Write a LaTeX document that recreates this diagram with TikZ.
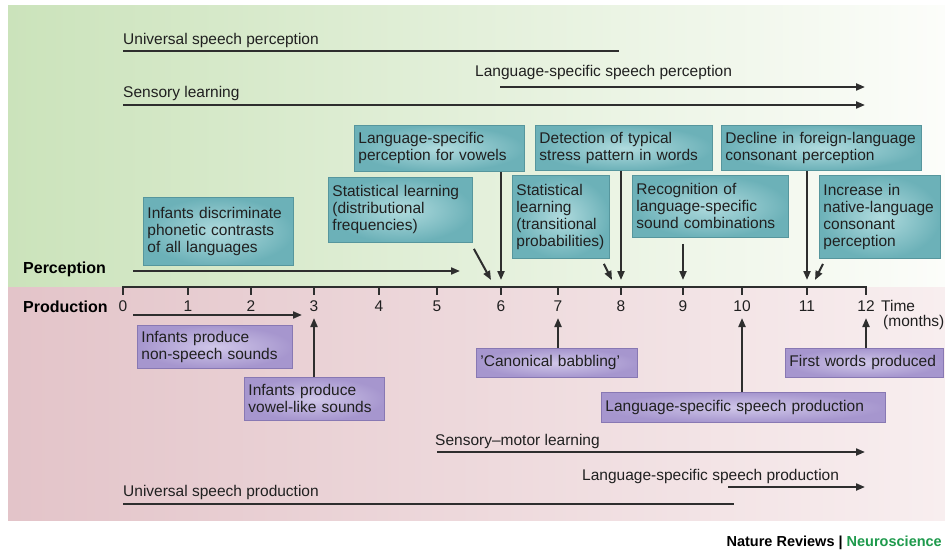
\documentclass[tikz,border=0pt]{standalone}
\usepackage{fontspec}
\setmainfont{Liberation Sans}
\usetikzlibrary{arrows.meta,calc}

% panel and box colours
\definecolor{greenL}{HTML}{CBE3BB}
\definecolor{greenM}{HTML}{DAECCC}
\definecolor{greenR}{HTML}{FCFDFA}
\definecolor{pinkL}{HTML}{E3C4C9}
\definecolor{pinkM}{HTML}{ECD5D8}
\definecolor{pinkR}{HTML}{F8EEEF}
\definecolor{tealIn}{HTML}{B0DBDE}
\definecolor{tealOut}{HTML}{6CB1B8}
\definecolor{tealEdge}{HTML}{56969D}
\definecolor{lilacIn}{HTML}{D0C7E9}
\definecolor{lilacOut}{HTML}{A696CE}
\definecolor{lilacEdge}{HTML}{8878B3}
\definecolor{ink}{HTML}{2E2E2E}
\definecolor{textink}{HTML}{202020}
\definecolor{nrgreen}{HTML}{1E9A4C}

\newcommand{\bodyfont}{\fontsize{15.5}{17}\selectfont}

\begin{document}
\begin{tikzpicture}[x=1pt,y=-1pt,
  lbl/.style={anchor=west, inner sep=0pt, text=textink, font=\bodyfont},
  heading/.style={anchor=west, inner sep=0pt, text=black, font=\bfseries\fontsize{16}{18}\selectfont},
  ticklbl/.style={inner sep=0pt, text=textink, font=\bodyfont},
  boxbase/.style={anchor=north west, align=left, inner xsep=4pt, inner ysep=0pt,
    line width=0.9pt, text=textink, font=\bodyfont},
  percbox/.style={boxbase, draw=tealEdge, inner color=tealIn, outer color=tealOut},
  prodbox/.style={boxbase, draw=lilacEdge, inner color=lilacIn, outer color=lilacOut},
  bar/.style={draw=ink, line width=2pt},
  arr/.style={draw=ink, line width=2pt, -{Triangle[length=9pt,width=7pt]}},
]
\useasboundingbox (0,0) rectangle (945,556);
\fill[white] (0,0) rectangle (945,556);

% two background bands
\shade[left color=greenL, middle color=greenM, right color=greenR] (8,6) rectangle (945,287);
\shade[left color=pinkL, middle color=pinkM, right color=pinkR] (8,287) rectangle (945,520);

% time axis and month ticks
\foreach \m/\x in {0/123,1/188,2/251,3/314,4/379,5/437,6/501,7/558,8/621,9/683,10/742,11/807,12/866}{
  \coordinate (t\m) at (\x,287);
  \draw[ink, line width=2pt] (\x,286) -- (\x,295);
  \node[ticklbl] (n\m) at (\x,306) {\m};
}
\draw[ink, line width=2pt] (t0) -- (t12);
\node[lbl] (time) at (881,306) {Time};
\node[lbl] (months) at (883,322) {(months)};

\node[heading] (perc) at (23,269) {Perception};
\node[heading] (prod) at (23,307) {Production};

% long-term trends, top band
\node[lbl] (usp) at (123,40) {Universal speech perception};
\coordinate (uspA) at (123,51); \coordinate (uspB) at (619,51);
\draw[bar] (uspA) -- (uspB);

\node[lbl] (lsp) at (475,72) {Language-specific speech perception};
\coordinate (lspA) at (500,87); \coordinate (lspB) at (865,87);
\draw[arr] (lspA) -- (lspB);

\node[lbl] (sl) at (123,93) {Sensory learning};
\coordinate (slA) at (123,105); \coordinate (slB) at (865,105);
\draw[arr] (slA) -- (slB);

% perception milestones
\node[percbox, text width=142pt, minimum height=68pt] (disc) at (143,197)
  {Infants discriminate\\phonetic contrasts\\of all languages};
\node[percbox, text width=136pt, minimum height=65pt] (distr) at (328,177)
  {Statistical learning\\(distributional\\frequencies)};
\node[percbox, text width=162pt, minimum height=46pt] (vowels) at (354,125)
  {Language-specific\\perception for vowels};
\node[percbox, text width=169pt, minimum height=45pt] (detect) at (535,125)
  {Detection of typical\\stress pattern in words};
\node[percbox, text width=192pt, minimum height=45pt] (decline) at (721,125)
  {Decline in foreign-language\\consonant perception};
\node[percbox, text width=89pt, minimum height=83pt] (trans) at (512,175)
  {Statistical\\learning\\(transitional\\probabilities)};
\node[percbox, text width=148pt, minimum height=62pt] (recog) at (632,175)
  {Recognition of\\language-specific\\sound combinations};
\node[percbox, text width=113pt, minimum height=83pt] (incr) at (819,175)
  {Increase in\\native-language\\consonant\\perception};

\coordinate (percA) at (133,271); \coordinate (percB) at (460,271);
\draw[arr] (percA) -- (percB);

\coordinate (e6) at ($(t6)+(0,-7)$);
\coordinate (e8) at ($(t8)+(0,-7)$);
\coordinate (e9) at ($(t9)+(0,-7)$);
\coordinate (e11) at ($(t11)+(0,-7)$);
\coordinate (d6) at (491,280);
\coordinate (d8) at (612,280);
\coordinate (d11) at (815,280);
\draw[arr] (vowels.south -| t6) -- (e6);
\draw[arr] (detect.south -| t8) -- (e8);
\draw[arr] (decline.south -| t11) -- (e11);
\draw[arr] ($(recog.south -| t9)+(0,6)$) -- (e9);
\draw[arr] ($(distr.south east)+(1,6)$) -- (d6);
\draw[arr] ($(trans.south east)+(-6,5)$) -- (d8);
\draw[arr] ($(incr.south west)+(4,5)$) -- (d11);

% production milestones
\coordinate (prodA) at (133,315); \coordinate (prodB) at (302,315);
\draw[arr] (prodA) -- (prodB);

\node[prodbox, text width=147pt, minimum height=43pt] (nonsp) at (137,325)
  {Infants produce\\non-speech sounds};
\node[prodbox, text width=132pt, minimum height=43pt] (vowlike) at (244,377)
  {Infants produce\\vowel-like sounds};
\node[prodbox, text width=153pt, minimum height=29pt] (canon) at (476,348)
  {{\char"0027}Canonical babbling{\char"0027}};
\node[prodbox, text width=150pt, minimum height=29pt] (first) at (785,348)
  {First words produced};
\node[prodbox, text width=276pt, minimum height=30pt] (lsprod) at (601,392)
  {Language-specific speech production};

\coordinate (p3) at ($(t3)+(0,31)$);
\coordinate (p7) at ($(t7)+(0,31)$);
\coordinate (p10) at ($(t10)+(0,31)$);
\coordinate (p12) at ($(t12)+(0,31)$);
\draw[arr] (vowlike.north -| t3) -- (p3);
\draw[arr] (canon.north -| t7) -- (p7);
\draw[arr] (lsprod.north -| t10) -- (p10);
\draw[arr] (first.north -| t12) -- (p12);

% long-term trends, bottom band
\node[lbl] (smt) at (435,441) {Sensory--motor learning};
\coordinate (smtA) at (437,452); \coordinate (smtB) at (865,452);
\draw[arr] (smtA) -- (smtB);

\node[lbl] (lspp) at (582,476) {Language-specific speech production};
\coordinate (lsppA) at (728,487); \coordinate (lsppB) at (865,487);
\draw[arr] (lsppA) -- (lsppB);

\node[lbl] (uspp) at (123,492) {Universal speech production};
\coordinate (usppA) at (123,504); \coordinate (usppB) at (734,504);
\draw[bar] (usppA) -- (usppB);

% journal credit
\node[anchor=east, inner sep=0pt, font=\bfseries\fontsize{14.5}{16}\selectfont] (credit) at (942,543)
  {Nature Reviews | \textcolor{nrgreen}{Neuroscience}};
\end{tikzpicture}
\end{document}
